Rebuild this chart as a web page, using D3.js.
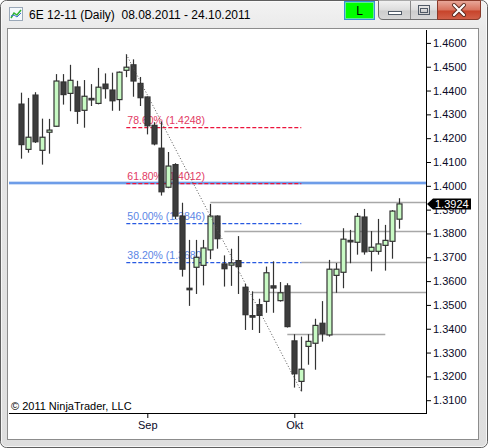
<!DOCTYPE html>
<html><head><meta charset="utf-8">
<script src="https://cdn.jsdelivr.net/npm/d3@7/dist/d3.min.js"></script>
<style>
html,body{margin:0;padding:0;background:#fff;}
svg{display:block;}
text{font-family:"Liberation Sans",Arial,sans-serif;}
</style></head>
<body><svg id="c" width="488" height="448"></svg>
<script>
// ---------- data ----------
const titleText = "6E 12-11 (Daily)  08.08.2011 - 24.10.2011";
const dates = [
 "2011-08-08","2011-08-09","2011-08-10","2011-08-11","2011-08-12",
 "2011-08-15","2011-08-16","2011-08-17","2011-08-18","2011-08-19",
 "2011-08-22","2011-08-23","2011-08-24","2011-08-25","2011-08-26",
 "2011-08-29","2011-08-30","2011-08-31",
 "2011-09-01","2011-09-02","2011-09-06","2011-09-07","2011-09-08","2011-09-09",
 "2011-09-12","2011-09-13","2011-09-14","2011-09-15","2011-09-16",
 "2011-09-19","2011-09-20","2011-09-21","2011-09-22","2011-09-23",
 "2011-09-26","2011-09-27","2011-09-28","2011-09-29","2011-09-30",
 "2011-10-03","2011-10-04","2011-10-05","2011-10-06","2011-10-07",
 "2011-10-10","2011-10-11","2011-10-12","2011-10-13","2011-10-14",
 "2011-10-17","2011-10-18","2011-10-19","2011-10-20","2011-10-21",
 "2011-10-24"];
const opens = [1.4343,1.4153,1.4381,1.4149,1.4225,1.4250,1.4436,1.4388,1.4415,1.4317,
 1.4367,1.4346,1.4427,1.4402,1.4362,1.4485,1.4508,1.4430,1.4373,1.4254,
 1.4158,1.3994,1.4089,1.3873,1.3570,1.3658,1.3666,1.3731,1.3873,1.3672,
 1.3667,1.3686,1.3574,1.3455,1.3501,1.3515,1.3580,1.3518,1.3580,1.3349,
 1.3179,1.3326,1.3339,1.3423,1.3374,1.3624,1.3637,1.3771,1.3763,1.3869,
 1.3725,1.3725,1.3750,1.3767,1.3860];
const highs = [1.4391,1.4369,1.4393,1.4282,1.4281,1.4469,1.4469,1.4508,1.4441,1.4444,
 1.4427,1.4495,1.4472,1.4475,1.4480,1.4552,1.4531,1.4457,1.4375,1.4267,
 1.4269,1.4142,1.4095,1.3929,1.3773,1.3773,1.3773,1.3924,1.3876,1.3708,
 1.3736,1.3789,1.3588,1.3557,1.3526,1.3661,1.3683,1.3596,1.3591,1.3377,
 1.3367,1.3377,1.3442,1.3516,1.3689,1.3676,1.3822,1.3815,1.3886,1.3903,
 1.3810,1.3861,1.3836,1.3898,1.3948];
const lows = [1.4114,1.4139,1.4180,1.4089,1.4135,1.4248,1.4341,1.4313,1.4260,1.4244,
 1.4335,1.4342,1.4366,1.4315,1.4315,1.4456,1.4374,1.4335,1.4216,1.4170,
 1.3959,1.3990,1.3860,1.3619,1.3496,1.3546,1.3582,1.3692,1.3736,1.3577,
 1.3580,1.3546,1.3395,1.3395,1.3382,1.3467,1.3467,1.3514,1.3405,1.3153,
 1.3137,1.3249,1.3228,1.3346,1.3367,1.3551,1.3570,1.3675,1.3711,1.3711,
 1.3641,1.3711,1.3644,1.3694,1.3820];
const closes = [1.4173,1.4204,1.4185,1.4204,1.4234,1.4440,1.4383,1.4443,1.4313,1.4376,
 1.4361,1.4414,1.4408,1.4357,1.4477,1.4498,1.4440,1.4370,1.4252,1.4176,
 1.3975,1.4083,1.3873,1.3650,1.3567,1.3700,1.3739,1.3873,1.3778,1.3652,
 1.3676,1.3661,1.3459,1.3453,1.3456,1.3635,1.3571,1.3551,1.3409,1.3211,
 1.3230,1.3347,1.3414,1.3379,1.3650,1.3650,1.3776,1.3765,1.3872,1.3723,
 1.3742,1.3756,1.3771,1.3894,1.3924];
const yTicks = [1.46,1.45,1.44,1.43,1.42,1.41,1.40,1.39,1.38,1.37,1.36,1.35,1.34,1.33,1.32,1.31];
const monthTickDates = ["2011-09-01","2011-10-03"];
const monthTickLabels = ["Sep","Okt"];
const fibPercents = ["78.60%","61.80%","50.00%","38.20%"];
const fibPrices = [1.4248,1.4012,1.3846,1.3680];
const fibFrom = "2011-08-29", fibTo = "2011-10-04";
const trendFrom = {date:"2011-08-29", price:1.4552};
const trendTo = {date:"2011-10-04", price:1.3137};
const srPrices = [1.3931,1.3809,1.3680,1.3553,1.3377];
const srFrom = ["2011-09-15","2011-09-19","2011-10-04","2011-09-23","2011-09-30"];
const srTo = [null,null,null,null,"2011-10-20"];
const blueLinePrice = 1.4012;
const lastPrice = 1.3924;
const copyright = "\u00A9 2011 NinjaTrader, LLC";

// ---------- drawing ----------
const svg = d3.select("#c");
const defs = svg.append("defs");
const g1 = defs.append("linearGradient").attr("id","frame").attr("x1",0).attr("y1",0).attr("x2",0).attr("y2",1);
g1.append("stop").attr("offset","0").attr("stop-color","#f3f3f3");
g1.append("stop").attr("offset","0.07").attr("stop-color","#e9e9e9");
g1.append("stop").attr("offset","1").attr("stop-color","#dedede");
const gb = defs.append("linearGradient").attr("id","btn").attr("x1",0).attr("y1",0).attr("x2",0).attr("y2",1);
gb.append("stop").attr("offset","0").attr("stop-color","#f2f2f2");
gb.append("stop").attr("offset","0.5").attr("stop-color","#dcdcdc");
gb.append("stop").attr("offset","0.55").attr("stop-color","#cdcdcd");
gb.append("stop").attr("offset","1").attr("stop-color","#d8d8d8");
const gr = defs.append("linearGradient").attr("id","close").attr("x1",0).attr("y1",0).attr("x2",0).attr("y2",1);
gr.append("stop").attr("offset","0").attr("stop-color","#e9a99b");
gr.append("stop").attr("offset","0.5").attr("stop-color","#d8735e");
gr.append("stop").attr("offset","0.55").attr("stop-color","#c7432a");
gr.append("stop").attr("offset","1").attr("stop-color","#d2614a");

// window frame
svg.append("rect").attr("x",0.5).attr("y",0.5).attr("width",487).attr("height",447).attr("rx",6)
  .attr("fill","url(#frame)").attr("stroke","#5f5f5f");
svg.append("rect").attr("x",1.5).attr("y",1.5).attr("width",485).attr("height",445).attr("rx",5)
  .attr("fill","none").attr("stroke","#fbfbfb").attr("stroke-opacity",0.8);
// client
svg.append("rect").attr("x",7.5).attr("y",28.5).attr("width",471).attr("height",411)
  .attr("fill","#fff").attr("stroke","#8c8c8c");

// title icon
const ic = svg.append("g");
ic.append("rect").attr("x",9.5).attr("y",7.5).attr("width",13).attr("height",13).attr("fill","#f4f8fc").attr("stroke","#9aa8b8");
ic.append("path").attr("d","M11,18 L14,13 L17,15 L21,10").attr("fill","none").attr("stroke","#2fb52f").attr("stroke-width",1.5);
ic.append("path").attr("d","M11,16 L14,15 L17,17 L21,13").attr("fill","none").attr("stroke","#3a6fd0").attr("stroke-width",1);
svg.append("text").attr("x",29).attr("y",19).attr("font-family","'Noto Sans','Open Sans',sans-serif")
  .attr("font-size",12).attr("fill","#000").style("white-space","pre").attr("xml:space","preserve").text(titleText);

// L button
svg.append("rect").attr("x",344.5).attr("y",1.5).attr("width",30).attr("height",18).attr("fill","#00ff00")
  .attr("stroke","#3b8ed8");
svg.append("rect").attr("x",345.5).attr("y",2.5).attr("width",28).attr("height",16).attr("fill","none")
  .attr("stroke","#a8d8ff").attr("stroke-opacity",0.6);
svg.append("text").attr("x",359.5).attr("y",15).attr("text-anchor","middle").attr("font-size",12).attr("fill","#000").text("L");

// caption buttons
svg.append("path").attr("d","M378.5,0.5 L378.5,15 Q378.5,19.5 383,19.5 L476,19.5 Q480.5,19.5 480.5,15 L480.5,0.5")
  .attr("fill","url(#btn)").attr("stroke","#6e6e6e");
svg.append("path").attr("d","M437.5,0.5 L437.5,19.5 L476,19.5 Q480.5,19.5 480.5,15 L480.5,0.5 Z")
  .attr("fill","url(#close)").attr("stroke","#8a3a2a");
svg.append("line").attr("x1",410.5).attr("x2",410.5).attr("y1",1).attr("y2",19).attr("stroke","#8a8a8a");
svg.append("rect").attr("x",388.5).attr("y",11.5).attr("width",13).attr("height",3).attr("fill","#fff").attr("stroke","#505a66");
svg.append("rect").attr("x",418.5).attr("y",5.5).attr("width",11).attr("height",9).attr("fill","none").attr("stroke","#505a66");
svg.append("rect").attr("x",420.5).attr("y",8.5).attr("width",7).attr("height",4).attr("fill","none").attr("stroke","#505a66");
svg.append("path").attr("d","M454,5 L464,15 M464,5 L454,15").attr("stroke","#5a2a20").attr("stroke-width",4).attr("stroke-linecap","round");
svg.append("path").attr("d","M454,5 L464,15 M464,5 L454,15").attr("stroke","#fff").attr("stroke-width",2.2).attr("stroke-linecap","round");

// scales
const plotLeft = 9, plotRight = 426, plotTop = 30, plotBottom = 413;
const x = d3.scalePoint().domain(dates).range([21.3, 399.3]);
const y = d3.scaleLinear().domain([1.31, 1.46]).range([400.2, 42.9]);

const plot = svg.append("g");
// horizontal blue line
const by = Math.round(y(blueLinePrice));
plot.append("line").attr("x1",plotLeft).attr("x2",plotRight).attr("y1",by).attr("y2",by)
  .attr("stroke","#9dbdf0").attr("stroke-width",3);
plot.append("line").attr("x1",plotLeft).attr("x2",plotRight).attr("y1",by).attr("y2",by)
  .attr("stroke","#5f93e6").attr("stroke-width",1.6);

// support/resistance gray lines
plot.selectAll("line.sr").data(srPrices).join("line").attr("class","sr")
  .attr("x1",(d,i)=>x(srFrom[i])).attr("x2",(d,i)=>srTo[i]?x(srTo[i]):plotRight)
  .attr("y1",d=>Math.round(y(d))+0.5).attr("y2",d=>Math.round(y(d))+0.5)
  .attr("stroke","#a8a8a8").attr("stroke-width",1.6);

// fib lines & labels
const fibCol = i => i < 2 ? "rgb(235,20,60)" : "rgb(40,90,225)";
const fibTxt = i => i < 2 ? "#e23a63" : "#5b86e6";
plot.selectAll("path.fib").data(fibPrices).join("path").attr("class","fib")
  .attr("d",d=>`M${x(fibFrom)},${Math.round(y(d))+0.6} H${x(fibTo)}`)
  .attr("fill","none")
  .style("stroke",(d,i)=>fibCol(i)).style("stroke-width","1.4px")
  .style("stroke-dasharray","4 2");
plot.selectAll("text.fib").data(fibPrices).join("text").attr("class","fib")
  .attr("x",x(fibFrom)+1).attr("y",d=>Math.round(y(d))-3)
  .attr("font-size",10.5).attr("fill",(d,i)=>fibTxt(i))
  .text((d,i)=>fibPercents[i]+" ("+d3.format(".4f")(d)+")");

// candles
const data = dates.map((d,i)=>({d,o:opens[i],h:highs[i],l:lows[i],c:closes[i]}));
const bw = 5;
const cg = plot.selectAll("g.cd").data(data).join("g").attr("class","cd");
cg.append("line").attr("x1",d=>Math.round(x(d.d))+0.5).attr("x2",d=>Math.round(x(d.d))+0.5)
  .attr("y1",d=>y(d.h)).attr("y2",d=>y(d.l)).attr("stroke","#333").attr("stroke-width",1.2);
cg.append("rect").attr("x",d=>Math.round(x(d.d))-bw/2+0.5).attr("width",bw)
  .attr("y",d=>y(Math.max(d.o,d.c))).attr("height",d=>Math.max(1.5,Math.abs(y(d.o)-y(d.c))))
  .attr("fill",d=>d.c>=d.o?"#c8fac4":"#3c3c3c").attr("stroke","#333").attr("stroke-width",1.2);

// trend dotted line
plot.append("line").attr("x1",x(trendFrom.date)).attr("y1",y(trendFrom.price))
  .attr("x2",x(trendTo.date)).attr("y2",y(trendTo.price))
  .attr("stroke","#555").attr("stroke-width",1).attr("stroke-dasharray","1,2");

// y axis
const yAxis = d3.axisRight(y).tickValues(yTicks).tickFormat(d3.format(".4f")).tickSize(5).tickSizeOuter(0).tickPadding(2);
const ya = svg.append("g").attr("transform",`translate(${plotRight},0)`).call(yAxis);
ya.select(".domain").remove();
ya.selectAll("line").attr("stroke","#000");
ya.selectAll("text").attr("font-size",11).attr("fill","#0a0a28").attr("font-family","'Liberation Sans',Arial,sans-serif");
svg.append("line").attr("x1",plotRight+0.5).attr("x2",plotRight+0.5).attr("y1",plotTop).attr("y2",plotBottom+0.5).attr("stroke","#000");

// x axis
const xAxis = d3.axisBottom(x).tickValues(monthTickDates).tickFormat((d,i)=>monthTickLabels[i]).tickSize(5).tickSizeOuter(0).tickPadding(3);
const xa = svg.append("g").attr("transform",`translate(0,${plotBottom})`).call(xAxis);
xa.select(".domain").remove();
xa.selectAll("line").attr("stroke","#000");
xa.selectAll("text").attr("font-size",11).attr("fill","#0a0a28").attr("font-family","'Liberation Sans',Arial,sans-serif");
svg.append("line").attr("x1",plotLeft).attr("x2",plotRight+1).attr("y1",plotBottom+0.5).attr("y2",plotBottom+0.5).attr("stroke","#000");

// last price marker
const ly = y(lastPrice);
svg.append("path").attr("d",`M${plotRight+1},${ly} L${plotRight+7},${ly-5.5} L${plotRight+45},${ly-5.5} L${plotRight+45},${ly+5.5} L${plotRight+7},${ly+5.5} Z`)
  .attr("fill","#000");
svg.append("text").attr("x",plotRight+9).attr("y",ly+4).attr("font-size",11).attr("fill","#fff").text(d3.format(".4f")(lastPrice));

// copyright
svg.append("text").attr("x",11).attr("y",410).attr("font-size",11).attr("fill","#000").text(copyright);
</script></body></html>
